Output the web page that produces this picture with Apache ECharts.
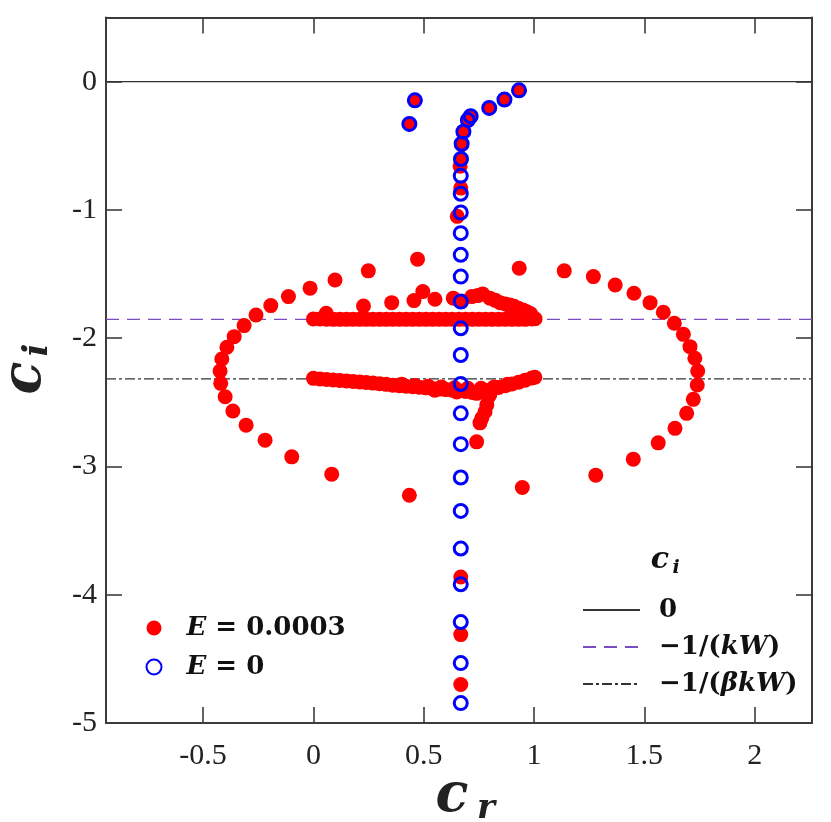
<!DOCTYPE html>
<html>
<head>
<meta charset="utf-8">
<script src="https://cdn.jsdelivr.net/npm/echarts@6/dist/echarts.min.js"></script>
<style>
html, body { margin: 0; padding: 0; background: #fff; }
#mychart { width: 831px; height: 822px; }
</style>
</head>
<body>
<div id="mychart"></div>
<script>
// axis ranges and tick labels
var crRange = [-0.94, 2.26];
var ciRange = [-5, 0.5];
var crTicks = [-0.5, 0, 0.5, 1, 1.5, 2];
var ciTicks = [0, -1, -2, -3, -4, -5];

// reference levels of c_i : 0, -1/(kW), -1/(betakW)
var levelNames = ['0', '-1/(kW)', '-1/(βkW)'];
var levelValues = [0, -1.853, -2.318];

// E = 0.0003 : outer ring of modes
var ringCr = [0.472, 0.249, 0.098, -0.015, -0.113, -0.193, -0.26, -0.314, -0.359, -0.392,
	-0.415, -0.423, -0.42, -0.40, -0.365, -0.305, -0.219, -0.098, 0.083, 0.435,
	0.933, 1.137, 1.269, 1.368, 1.453, 1.526, 1.586, 1.636, 1.677, 1.707,
	1.729, 1.742, 1.74, 1.722, 1.692, 1.639, 1.563, 1.45, 1.28, 0.947];
var ringCi = [-1.384, -1.475, -1.546, -1.61, -1.676, -1.746, -1.819, -1.902, -1.988, -2.071,
	-2.162, -2.256, -2.352, -2.457, -2.568, -2.678, -2.795, -2.925, -3.06, -3.224,
	-1.454, -1.475, -1.52, -1.585, -1.65, -1.723, -1.798, -1.884, -1.97, -2.066,
	-2.157, -2.256, -2.365, -2.477, -2.586, -2.703, -2.816, -2.943, -3.068, -3.164];

// E = 0.0003 : upper branch on -1/(kW)
var upperCr = [0.00, 0.03, 0.06, 0.09, 0.12, 0.15, 0.18, 0.21, 0.24, 0.27, 0.30, 0.33,
	0.36, 0.39, 0.42, 0.45, 0.48, 0.51, 0.54, 0.57, 0.60, 0.63, 0.66, 0.69,
	0.72, 0.75, 0.78, 0.81, 0.84, 0.87, 0.90, 0.93, 0.96, 0.99, 1.005];
var upperCi = [-1.85, -1.851, -1.852, -1.853, -1.853, -1.853, -1.853, -1.853, -1.853, -1.853, -1.853, -1.853,
	-1.853, -1.853, -1.853, -1.853, -1.853, -1.853, -1.853, -1.853, -1.853, -1.853, -1.853, -1.853,
	-1.853, -1.853, -1.853, -1.853, -1.853, -1.853, -1.853, -1.853, -1.853, -1.85, -1.848];

// E = 0.0003 : scattered points above the upper branch
var fringeCr = [0.058, 0.227, 0.355, 0.456, 0.496, 0.551, 0.634, 0.672, 0.718, 0.745, 0.767,
	0.80, 0.825, 0.846, 0.87, 0.891, 0.91, 0.929, 0.95, 0.967, 0.985, 0.90, 0.95];
var fringeCi = [-1.806, -1.749, -1.723, -1.707, -1.637, -1.696, -1.688, -1.715, -1.676, -1.668, -1.655,
	-1.688, -1.705, -1.723, -1.733, -1.741, -1.752, -1.767, -1.78, -1.793, -1.81, -1.80, -1.82];

// E = 0.0003 : lower branch near -1/(betakW)
var lowerCr = [0.00, 0.03, 0.06, 0.09, 0.12, 0.15, 0.18, 0.21, 0.24, 0.27, 0.30, 0.33,
	0.36, 0.39, 0.42, 0.45, 0.48, 0.51, 0.54, 0.57, 0.60, 0.63, 0.66, 0.69,
	0.72, 0.75, 0.78, 0.81, 0.84, 0.87, 0.90, 0.93, 0.96, 0.99, 1.004,
	0.40, 0.46, 0.52, 0.58, 0.64, 0.70, 0.76, 0.82, 0.88, 0.55, 0.65, 0.74];
var lowerCi = [-2.313, -2.318, -2.322, -2.326, -2.329, -2.333, -2.337, -2.341, -2.345, -2.35, -2.355, -2.36,
	-2.366, -2.371, -2.375, -2.379, -2.383, -2.387, -2.392, -2.397, -2.401, -2.406, -2.41, -2.416,
	-2.423, -2.418, -2.408, -2.397, -2.385, -2.37, -2.357, -2.343, -2.327, -2.31, -2.305,
	-2.36, -2.368, -2.374, -2.38, -2.386, -2.39, -2.39, -2.38, -2.36, -2.405, -2.42, -2.43];

// E = 0.0003 : tail under the lower branch
var tailCr = [0.80, 0.793, 0.786, 0.778, 0.763, 0.755, 0.74];
var tailCi = [-2.44, -2.457, -2.52, -2.574, -2.625, -2.66, -2.808];

// E = 0.0003 : points near c_r = 2/3 and the top
var colRedCr = [0.46, 0.435, 0.932, 0.866, 0.797, 0.713, 0.70, 0.68, 0.672, 0.668, 0.665, 0.668, 0.652,
	0.668, 0.668, 0.668];
var colRedCi = [-0.146, -0.33, -0.068, -0.14, -0.205, -0.27, -0.30, -0.39, -0.492, -0.61, -0.66, -0.83, -1.05,
	-3.862, -4.311, -4.70];

// E = 0
var blueCr = [0.46, 0.435, 0.932, 0.866, 0.797, 0.713, 0.70, 0.68, 0.672, 0.669, 0.668, 0.668,
	0.668, 0.668, 0.668, 0.668, 0.668, 0.668, 0.668, 0.668, 0.668, 0.668, 0.668, 0.668,
	0.668, 0.668, 0.668, 0.668, 0.668];
var blueCi = [-0.146, -0.33, -0.068, -0.14, -0.205, -0.27, -0.30, -0.39, -0.484, -0.603, -0.734, -0.874,
	-1.02, -1.181, -1.35, -1.52, -1.715, -1.923, -2.131, -2.357, -2.586, -2.826, -3.086, -3.347,
	-3.64, -3.919, -4.213, -4.533, -4.845];

var chartPage = {
	initial : function initial() {
		var myChart = echarts.init(document.getElementById('mychart'));
		myChart.setOption(this.buildOption());
	},

	pairs : function pairs(xs, ys) {
		var out = [];
		for (var i = 0; i < xs.length; i++) {
			out.push([xs[i], ys[i]]);
		}
		return out;
	},

	tickFormatter : function tickFormatter(list) {
		return function(v) {
			for (var i = 0; i < list.length; i++) {
				if (Math.abs(list[i] - v) < 1e-6) return String(list[i]);
			}
			return '';
		};
	},

	legendText : function legendText(gap) {
		var math = 'DejaVu Serif';
		return {
			fontFamily: math, fontWeight: 'bold', fontSize: 26, color: '#111',
			padding: [0, 0, 0, gap],
			rich: { i: { fontFamily: math, fontWeight: 'bold', fontStyle: 'italic', fontSize: 26, color: '#111' } }
		};
	},

	buildOption : function buildOption() {
		var axisColor = '#3c3c3c';
		var serif = 'Liberation Serif';

		var redData = [].concat(
			this.pairs(ringCr, ringCi),
			this.pairs(upperCr, upperCi),
			this.pairs(fringeCr, fringeCi),
			this.pairs(lowerCr, lowerCi),
			this.pairs(tailCr, tailCi),
			this.pairs(colRedCr, colRedCi)
		);
		var blueData = this.pairs(blueCr, blueCi);

		var lineStyles = [
			{ color: '#333333', width: 1.2, type: 'solid' },
			{ color: '#7a4cc2', width: 1.3, type: [13, 8] },
			{ color: '#333333', width: 1.3, type: [10, 3, 3, 3] }
		];

		var series = [];
		for (var i = 0; i < levelValues.length; i++) {
			series.push({
				name: levelNames[i],
				type: 'line',
				symbol: 'none',
				showSymbol: false,
				silent: true,
				lineStyle: lineStyles[i],
				itemStyle: { color: lineStyles[i].color },
				data: [[crRange[0], levelValues[i]], [crRange[1], levelValues[i]]],
				z: 1
			});
		}
		series.push({
			name: 'E = 0.0003',
			type: 'scatter',
			symbol: 'circle',
			symbolSize: 15,
			itemStyle: { color: '#ff0000', opacity: 1 },
			data: redData,
			z: 2
		});
		series.push({
			name: 'E = 0',
			type: 'scatter',
			symbol: 'circle',
			symbolSize: 13,
			itemStyle: { color: 'rgba(0,0,0,0)', borderColor: '#0000ff', borderWidth: 3, opacity: 1 },
			data: blueData,
			z: 3
		});

		var tickOpt = { show: true, inside: true, length: 16, lineStyle: { color: axisColor, width: 1.6 } };
		var lineOpt = { show: true, onZero: false, lineStyle: { color: axisColor, width: 2 } };

		var option = {
			animation: false,
			backgroundColor: '#ffffff',
			grid: { left: 106, right: 19, top: 17.5, bottom: 99, containLabel: false },
			xAxis: [
				{
					type: 'value', position: 'bottom', min: crRange[0], max: crRange[1],
					axisLine: lineOpt, axisTick: tickOpt, splitLine: { show: false },
					axisLabel: {
						margin: 18, color: '#222', fontFamily: serif, fontSize: 30,
						formatter: this.tickFormatter(crTicks)
					}
				},
				{
					type: 'value', position: 'top', min: crRange[0], max: crRange[1],
					axisLine: lineOpt, axisTick: tickOpt, splitLine: { show: false },
					axisLabel: { show: false }
				}
			],
			yAxis: [
				{
					type: 'value', position: 'left', min: ciRange[0], max: ciRange[1],
					axisLine: lineOpt, axisTick: tickOpt, splitLine: { show: false },
					axisLabel: {
						margin: 9, color: '#222', fontFamily: serif, fontSize: 30,
						formatter: this.tickFormatter(ciTicks)
					}
				},
				{
					type: 'value', position: 'right', min: ciRange[0], max: ciRange[1],
					axisLine: lineOpt, axisTick: tickOpt, splitLine: { show: false },
					axisLabel: { show: false }
				}
			],
			legend: [
				{
					data: ['E = 0.0003', 'E = 0'],
					orient: 'vertical',
					left: 140.5, top: 610,
					itemWidth: 15, itemHeight: 15, itemGap: 13,
					formatter: function(name) {
						return '{i|E}' + name.substring(1);
					},
					textStyle: this.legendText(20)
				},
				{
					data: levelNames,
					orient: 'vertical',
					left: 577, top: 592,
					itemWidth: 57, itemHeight: 14, itemGap: 11,
					itemStyle: { opacity: 0 },
					formatter: function(name) {
						if (name === '0') return '0';
						var inner = name.substring(4, name.length - 1);
						return '\u22121/({i|' + inner + '})';
					},
					textStyle: this.legendText(14)
				}
			],
			graphic: [
				{ type: 'text', x: 452, y: 797, style: { text: 'c', font: 'italic bold 54px "DejaVu Serif"', fill: '#222', textAlign: 'center', textVerticalAlign: 'middle' } },
				{ type: 'text', x: 486, y: 809, style: { text: 'r', font: 'italic bold 34px "DejaVu Serif"', fill: '#222', textAlign: 'center', textVerticalAlign: 'middle' } },
				{ type: 'text', x: 26, y: 378, rotation: Math.PI / 2, style: { text: 'c', font: 'italic bold 54px "DejaVu Serif"', fill: '#222', textAlign: 'center', textVerticalAlign: 'middle' } },
				{ type: 'text', x: 38, y: 350, rotation: Math.PI / 2, style: { text: 'i', font: 'italic bold 34px "DejaVu Serif"', fill: '#222', textAlign: 'center', textVerticalAlign: 'middle' } },
				{ type: 'text', x: 660, y: 560, style: { text: 'c', font: 'italic bold 30px "DejaVu Serif"', fill: '#111', textAlign: 'center', textVerticalAlign: 'middle' } },
				{ type: 'text', x: 676, y: 568, style: { text: 'i', font: 'italic bold 19px "DejaVu Serif"', fill: '#111', textAlign: 'center', textVerticalAlign: 'middle' } }
			],
			series: series
		};
		return option;
	}
};

chartPage.initial();
</script>
</body>
</html>
